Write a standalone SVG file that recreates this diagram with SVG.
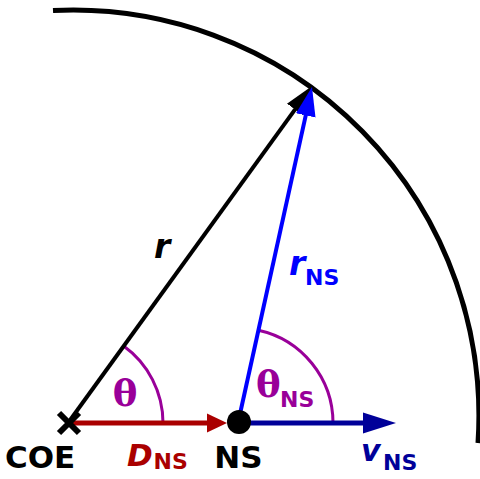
<svg xmlns="http://www.w3.org/2000/svg" width="480" height="479" viewBox="0 0 480 479">
<style>
.lbl{font-family:"DejaVu Sans","Liberation Sans",sans-serif;font-weight:bold}
.it{font-style:italic}
.th{font-family:"DejaVu Serif","Liberation Serif",serif;font-weight:bold}
.ang{fill:none;stroke:#990099;stroke-width:3}
</style>
<defs>
<marker id="hBlack" markerUnits="userSpaceOnUse" orient="auto" markerWidth="40" markerHeight="30" viewBox="0 -15 40 30" refX="10" refY="0"><path d="M0,-10 L29,0 L0,10 Z" fill="#000"/></marker>
<marker id="hBlue" markerUnits="userSpaceOnUse" orient="auto" markerWidth="40" markerHeight="30" viewBox="0 -15 40 30" refX="10" refY="0"><path d="M0,-10 L29,0 L0,10 Z" fill="#0000ff"/></marker>
<marker id="hRed" markerUnits="userSpaceOnUse" orient="auto" markerWidth="30" markerHeight="30" viewBox="0 -15 30 30" refX="8" refY="0"><path d="M0,-9.5 L20,0 L0,9.5 Z" fill="#aa0000"/></marker>
<marker id="hNavy" markerUnits="userSpaceOnUse" orient="auto" markerWidth="40" markerHeight="30" viewBox="0 -15 40 30" refX="10" refY="0"><path d="M0,-10.5 L33,0 L0,10.5 Z" fill="#000099"/></marker>
</defs>
<rect width="480" height="479" fill="#fff"/>
<path id="boundary" d="M53,10.5 A406,406 0 0 1 478,443" fill="none" stroke="#000" stroke-width="5"/>
<g id="angles">
<path class="ang" d="M163,423 A95,95 0 0 0 123.3,345.8"/>
<path class="ang" d="M333,423 A95,95 0 0 0 258.4,330.2"/>
<text class="th" x="125" y="406" font-size="37" fill="#990099" text-anchor="middle">θ</text>
<text class="th" x="256" y="397" font-size="37" fill="#990099">θ<tspan class="lbl" x="280" y="407" font-size="22">NS</tspan></text>
</g>
<g id="connectors">
<line x1="68" y1="423" x2="215" y2="423" stroke="#aa0000" stroke-width="5" marker-end="url(#hRed)"/>
<line x1="238" y1="423" x2="373" y2="423" stroke="#000099" stroke-width="5" marker-end="url(#hNavy)"/>
<line x1="68" y1="423" x2="300.9" y2="101.4" stroke="#000" stroke-width="4" marker-end="url(#hBlack)"/>
<line x1="238" y1="423" x2="307.9" y2="105.6" stroke="#0000ff" stroke-width="4" marker-end="url(#hBlue)"/>
<text class="lbl it" x="154" y="258" font-size="33" fill="#000">r</text>
<text class="lbl it" x="289" y="275" font-size="33" fill="#0000ff">r<tspan font-style="normal" x="305" y="285" font-size="22">NS</tspan></text>
<text class="lbl it" x="127" y="466" font-size="31" fill="#aa0000">D<tspan font-style="normal" x="153.5" y="469" font-size="22">NS</tspan></text>
<text class="lbl it" x="361" y="461" font-size="30" fill="#000099">v<tspan font-style="normal" x="383" y="470" font-size="22">NS</tspan></text>
</g>
<g id="COE">
<path d="M59,413 L79,433 M79,413 L59,433" stroke="#000" stroke-width="6"/>
<text class="lbl" x="5" y="468" font-size="31" fill="#000">COE</text>
</g>
<g id="NS">
<circle cx="239" cy="422" r="12" fill="#000"/>
<text class="lbl" x="238.5" y="468" font-size="31" fill="#000" text-anchor="middle">NS</text>
</g>
</svg>
